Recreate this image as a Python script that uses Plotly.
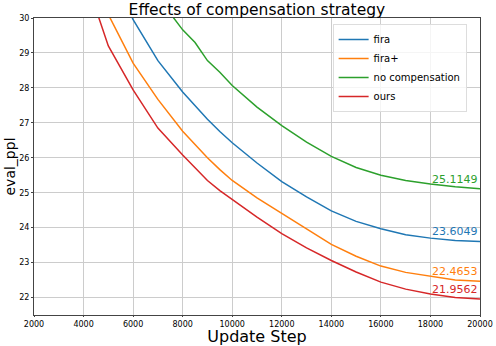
import plotly.graph_objects as go

# update steps shared by all curves
steps = [4000, 5000, 6000, 7000, 8000, 8500, 9000, 9500, 10000, 11000, 12000, 13000,
         14000, 15000, 16000, 17000, 18000, 19000, 20000]

fira = [33.5, 31.6, 29.95, 28.78, 27.88, 27.48, 27.1, 26.75, 26.43, 25.85, 25.32, 24.88,
        24.48, 24.18, 23.97, 23.8, 23.7, 23.63, 23.6049]
fira_plus = [32.3, 30.1, 28.71, 27.67, 26.76, 26.37, 26.0, 25.66, 25.35, 24.85, 24.4, 23.95,
             23.52, 23.18, 22.9, 22.72, 22.6, 22.5, 22.4653]
no_comp = [34.5, 33.0, 31.8, 30.6, 29.66, 29.3, 28.78, 28.45, 28.07, 27.45, 26.92, 26.45,
           26.04, 25.72, 25.5, 25.35, 25.25, 25.17, 25.1149]
ours = [31.3, 29.2, 27.94, 26.85, 26.08, 25.7, 25.35, 25.06, 24.8, 24.3, 23.83, 23.42,
        23.06, 22.73, 22.44, 22.24, 22.1, 22.0, 21.9562]

names = ["fira", "fira+", "no compensation", "ours"]
colors = ["#1f77b4", "#ff7f0e", "#2ca02c", "#d62728"]
series = [fira, fira_plus, no_comp, ours]

x_ticks = list(range(2000, 20001, 2000))
y_ticks = list(range(22, 31))

fig = go.Figure()
for name, col, ys in zip(names, colors, series):
    fig.add_trace(go.Scatter(x=steps, y=ys, mode="lines", name=name,
                             line=dict(color=col, width=1.5)))
    # final value label at the right end
    fig.add_annotation(x=steps[-1], y=ys[-1], text=f"{ys[-1]:.4f}", showarrow=False,
                       xanchor="right", yanchor="bottom", yshift=1,
                       font=dict(color=col, size=11))

fig.update_layout(
    width=496, height=346,
    margin=dict(l=34, r=16, t=18, b=31),
    paper_bgcolor="white", plot_bgcolor="white",
    font=dict(family="DejaVu Sans", color="black"),
    title=dict(text="Effects of compensation strategy", x=0.518, xanchor="center",
               y=0.971, yanchor="middle", pad=dict(t=0, b=0), font=dict(size=15.5),
               automargin=False),
    showlegend=True,
    legend=dict(x=0.97, y=0.98, xanchor="right", yanchor="top",
                bgcolor="rgba(255,255,255,0.8)", bordercolor="#dddddd", borderwidth=1,
                font=dict(size=10), itemwidth=30, tracegroupgap=0),
)
fig.update_xaxes(range=[2000, 20000], tickvals=x_ticks, ticktext=[str(v) for v in x_ticks],
                 showgrid=True, gridcolor="#cccccc", gridwidth=1, automargin=False,
                 showline=True, linecolor="#444444", mirror=True, linewidth=1,
                 ticks="outside", ticklen=1, tickfont=dict(size=8),
                 title=dict(text="Update Step", font=dict(size=16), standoff=1))
fig.update_yaxes(range=[21.5, 30], tickvals=y_ticks, automargin=False,
                 showgrid=True, gridcolor="#cccccc", gridwidth=1,
                 showline=True, linecolor="#444444", mirror=True, linewidth=1,
                 ticks="outside", ticklen=2, tickfont=dict(size=8),
                 title=dict(text="eval_ppl", font=dict(size=14), standoff=0))

# drop the default page margin so the figure sits at the window's corner
fig.write_html("out.html", config={"displayModeBar": False},
               post_script="document.body.style.margin='0px';")
